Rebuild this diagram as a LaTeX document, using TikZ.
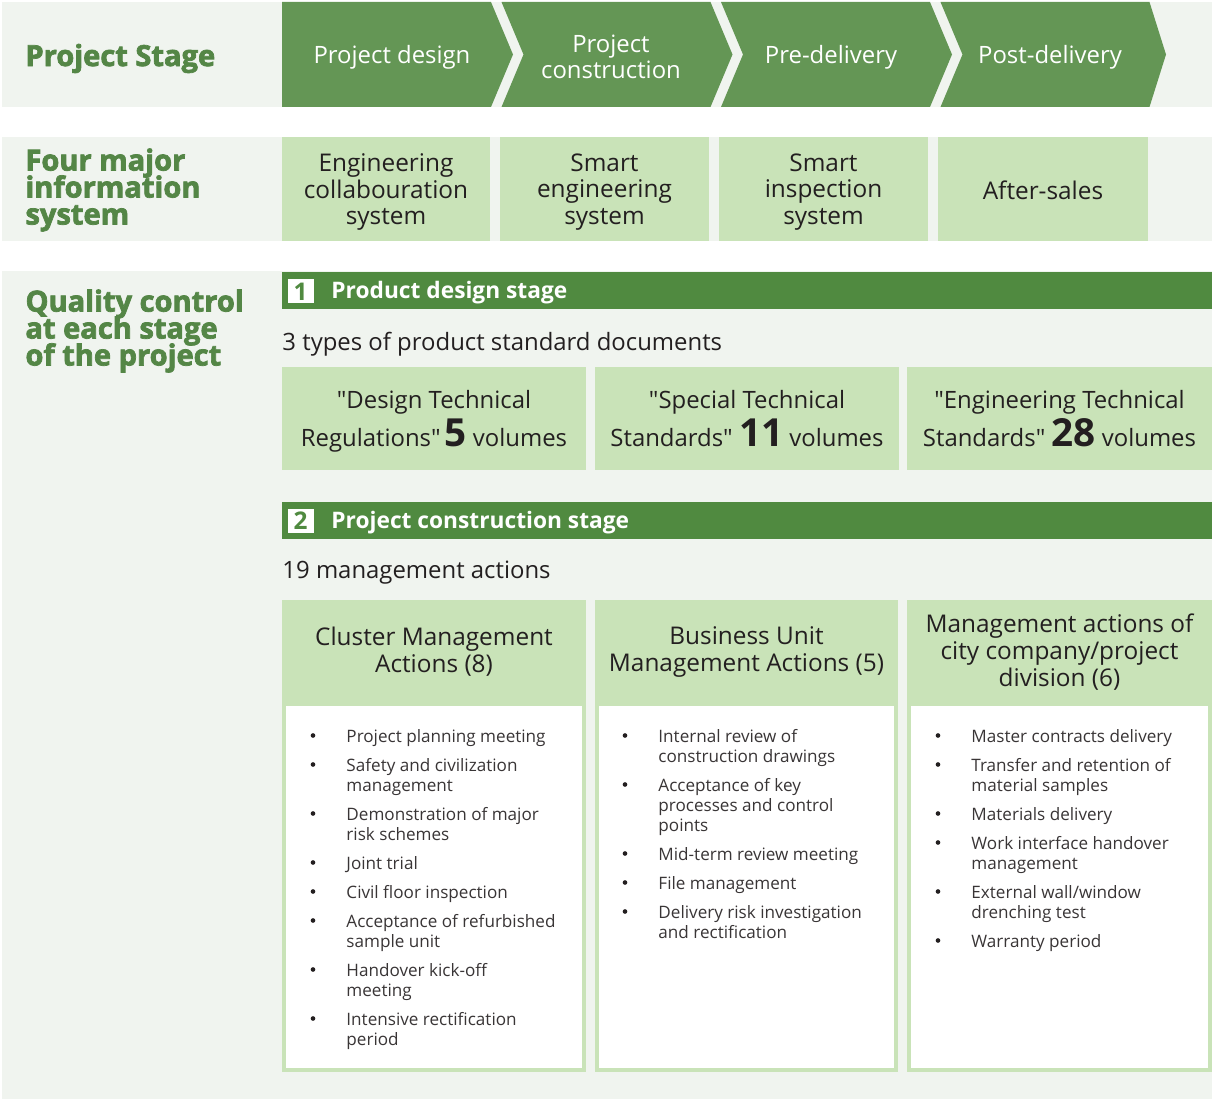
\documentclass[tikz,border=0pt]{standalone}
\usepackage{fontspec}
\setmainfont{Open Sans}
\newfontfamily\heavyfont{Open Sans}[FakeBold=2.5]
\newfontfamily\quotefont{Open Sans}
\definecolor{stagegreen}{RGB}{100,150,85}
\definecolor{bargreen}{RGB}{80,138,64}
\definecolor{palegreen}{RGB}{201,227,184}
\definecolor{labelgreen}{RGB}{84,134,70}
\definecolor{patterngray}{RGB}{240,244,239}
\definecolor{inkblack}{RGB}{35,31,32}

\begin{document}
\begin{tikzpicture}[scale=0.15]
\tikzstyle{every node}+=[inner sep=0pt]
\tikzstyle{sidelabel}=[anchor=west,align=left,text=labelgreen,font={\heavyfont\bfseries\fontsize{12.4}{11.5}\selectfont\lineskiplimit -8pt}]
\tikzstyle{stagetext}=[align=center,text=white,font=\fontsize{10.2}{11.1}\selectfont]
\tikzstyle{infotext}=[align=center,text=inkblack,font=\fontsize{10.4}{11.4}\selectfont]
\tikzstyle{plaintext}=[anchor=base west,text=inkblack,font=\fontsize{10.2}{11.4}\selectfont]
\tikzstyle{doctext}=[anchor=base,text=inkblack,font=\fontsize{10.2}{11.4}\selectfont]
\tikzstyle{bartext}=[anchor=base west,text=white,font=\bfseries\fontsize{9.7}{11}\selectfont]
\tikzstyle{numtext}=[text=bargreen,font=\bfseries\fontsize{10.4}{10}\selectfont]
\tikzstyle{dot}=[circle,fill=inkblack,minimum size=0.7mm]
\tikzstyle{bodytext}=[anchor=base west,align=left,text=inkblack!90,font=\fontsize{7.3}{8.6}\selectfont]
\useasboundingbox (0,0) rectangle (121.2,-109.9);
\fill [patterngray] (0.2,-0.2) rectangle (121.2,-10.7);
\fill [patterngray] (0.2,-13.7) rectangle (121.2,-24.1);
\fill [patterngray] (0.2,-27.1) rectangle (121.2,-109.9);
\fill [stagegreen] (28.2,-0.2) -- (49.1,-0.2) -- (51.3,-5.45) -- (49.1,-10.7) -- (28.2,-10.7) -- cycle;
\fill [stagegreen] (50.15,-0.2) -- (71.05,-0.2) -- (73.25,-5.45) -- (71.05,-10.7) -- (50.15,-10.7) -- (52.35,-5.45) -- cycle;
\fill [stagegreen] (72.1,-0.2) -- (93.0,-0.2) -- (95.2,-5.45) -- (93.0,-10.7) -- (72.1,-10.7) -- (74.3,-5.45) -- cycle;
\fill [stagegreen] (94.05,-0.2) -- (114.95,-0.2) -- (116.6,-5.45) -- (114.95,-10.7) -- (94.05,-10.7) -- (96.25,-5.45) -- cycle;
\node [sidelabel] (stagelabel) at (2.5,-5.85) {Project Stage};
\node [stagetext] (design) at (39.2,-5.75) {Project design};
\node [stagetext] (construction) at (61.1,-5.65) {Project\\construction};
\node [stagetext] (predelivery) at (83.1,-5.75) {Pre-delivery};
\node [stagetext] (postdelivery) at (105.0,-5.75) {Post-delivery};
\fill [palegreen] (28.2,-13.7) rectangle (49.0,-24.1);
\fill [palegreen] (50.0,-13.7) rectangle (70.9,-24.1);
\fill [palegreen] (71.9,-13.7) rectangle (92.8,-24.1);
\fill [palegreen] (93.8,-13.7) rectangle (114.8,-24.1);
\node [sidelabel] (infolabel) at (2.5,-19.0) {Four major\\information\\system};
\node [infotext] (collab) at (38.6,-19.2) {Engineering\\collabouration\\system};
\node [infotext] (smarteng) at (60.45,-19.2) {Smart\\engineering\\system};
\node [infotext] (smartinsp) at (82.35,-19.2) {Smart\\inspection\\system};
\node [infotext] (aftersales) at (104.3,-19.0) {After-sales};
\node [sidelabel] (qualitylabel) at (2.5,-33.1) {Quality control\\at each stage\\of the project};
\fill [bargreen] (28.2,-27.2) rectangle (121.2,-30.95);
\fill [white] (28.75,-27.95) rectangle (31.35,-30.35);
\node [numtext] (one) at (30.05,-29.15) {1};
\node [bartext] (designstage) at (33.1,-29.9) {Product design stage};
\node [plaintext] (threetypes) at (28.2,-35.1) {3 types of product standard documents};
\fill [palegreen] (28.2,-36.7) rectangle (58.6,-47.0);
\fill [palegreen] (59.5,-36.7) rectangle (89.9,-47.0);
\fill [palegreen] (90.7,-36.7) rectangle (121.2,-47.0);
\node [doctext] (regtop) at (43.4,-40.9) {{\quotefont"}Design Technical};
\node [doctext] (regbot) at (43.4,-44.7) {Regulations{\quotefont"}\,{\bfseries\fontsize{16.5}{16}\selectfont 5} volumes};
\node [doctext] (spectop) at (74.7,-40.9) {{\quotefont"}Special Technical};
\node [doctext] (specbot) at (74.7,-44.7) {Standards{\quotefont"} {\bfseries\fontsize{16.5}{16}\selectfont 11} volumes};
\node [doctext] (engtop) at (105.95,-40.9) {{\quotefont"}Engineering Technical};
\node [doctext] (engbot) at (105.95,-44.7) {Standards{\quotefont"} {\bfseries\fontsize{16.5}{16}\selectfont 28} volumes};
\fill [bargreen] (28.2,-50.2) rectangle (121.2,-53.9);
\fill [white] (28.75,-50.9) rectangle (31.35,-53.3);
\node [numtext] (two) at (30.05,-52.1) {2};
\node [bartext] (constage) at (33.1,-52.8) {Project construction stage};
\node [plaintext] (nineteen) at (28.2,-57.9) {19 management actions};
\fill [palegreen] (28.2,-60.0) rectangle (58.6,-107.2);
\fill [white] (28.6,-70.6) rectangle (58.2,-106.8);
\fill [palegreen] (59.5,-60.0) rectangle (89.8,-107.2);
\fill [white] (59.9,-70.6) rectangle (89.4,-106.8);
\fill [palegreen] (90.7,-60.0) rectangle (121.2,-107.2);
\fill [white] (91.1,-70.6) rectangle (120.8,-106.8);
\node [infotext] (clusterhead) at (43.4,-65.2) {Cluster Management\\Actions (8)};
\node [infotext] (buhead) at (74.65,-65.2) {Business Unit\\Management Actions (5)};
\node [infotext] (cityhead) at (105.95,-65.2) {Management actions of\\city company/project\\division (6)};
\node [dot] (d1a) at (31.3,-73.55) {};
\node [bodytext] (c1a) at (34.6,-74.25) {Project planning meeting};
\node [dot] (d1b) at (31.3,-76.45) {};
\node [bodytext] (c1b) at (34.6,-79.15) {Safety and civilization\\management};
\node [dot] (d1c) at (31.3,-81.35) {};
\node [bodytext] (c1c) at (34.6,-84.05) {Demonstration of major\\risk schemes};
\node [dot] (d1d) at (31.3,-86.25) {};
\node [bodytext] (c1d) at (34.6,-86.95) {Joint trial};
\node [dot] (d1e) at (31.3,-89.15) {};
\node [bodytext] (c1e) at (34.6,-89.85) {Civil floor inspection};
\node [dot] (d1f) at (31.3,-92.05) {};
\node [bodytext] (c1f) at (34.6,-94.75) {Acceptance of refurbished\\sample unit};
\node [dot] (d1g) at (31.3,-96.95) {};
\node [bodytext] (c1g) at (34.6,-99.65) {Handover kick-off\\meeting};
\node [dot] (d1h) at (31.3,-101.85) {};
\node [bodytext] (c1h) at (34.6,-104.55) {Intensive rectification\\period};
\node [dot] (d2a) at (62.5,-73.55) {};
\node [bodytext] (c2a) at (65.8,-76.25) {Internal review of\\construction drawings};
\node [dot] (d2b) at (62.5,-78.45) {};
\node [bodytext] (c2b) at (65.8,-83.15) {Acceptance of key\\processes and control\\points};
\node [dot] (d2c) at (62.5,-85.35) {};
\node [bodytext] (c2c) at (65.8,-86.05) {Mid-term review meeting};
\node [dot] (d2d) at (62.5,-88.25) {};
\node [bodytext] (c2d) at (65.8,-88.95) {File management};
\node [dot] (d2e) at (62.5,-91.15) {};
\node [bodytext] (c2e) at (65.8,-93.85) {Delivery risk investigation\\and rectification};
\node [dot] (d3a) at (93.8,-73.55) {};
\node [bodytext] (c3a) at (97.1,-74.25) {Master contracts delivery};
\node [dot] (d3b) at (93.8,-76.45) {};
\node [bodytext] (c3b) at (97.1,-79.15) {Transfer and retention of\\material samples};
\node [dot] (d3c) at (93.8,-81.35) {};
\node [bodytext] (c3c) at (97.1,-82.05) {Materials delivery};
\node [dot] (d3d) at (93.8,-84.25) {};
\node [bodytext] (c3d) at (97.1,-86.95) {Work interface handover\\management};
\node [dot] (d3e) at (93.8,-89.15) {};
\node [bodytext] (c3e) at (97.1,-91.85) {External wall/window\\drenching test};
\node [dot] (d3f) at (93.8,-94.05) {};
\node [bodytext] (c3f) at (97.1,-94.75) {Warranty period};
\end{tikzpicture}
\end{document}
